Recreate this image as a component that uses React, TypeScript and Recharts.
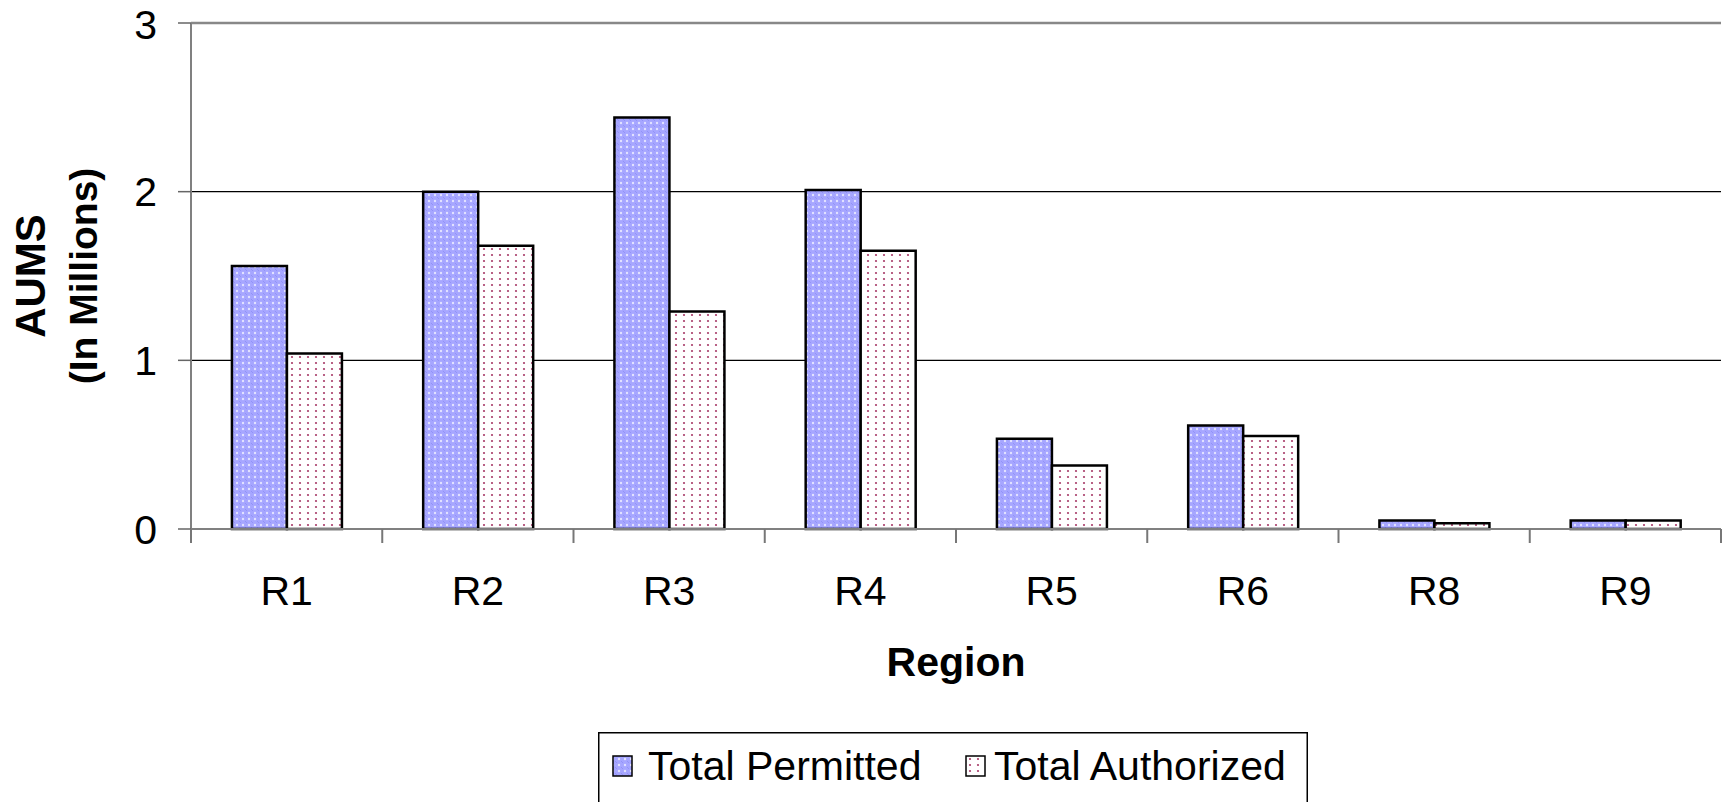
import React from 'react';
import { BarChart, Bar, XAxis, YAxis, CartesianGrid, Legend, ReferenceLine, Label } from 'recharts';

const regions = ['R1', 'R2', 'R3', 'R4', 'R5', 'R6', 'R8', 'R9'];
const totalPermitted = [1.56, 2.0, 2.44, 2.01, 0.535, 0.614, 0.05, 0.05];
const totalAuthorized = [1.04, 1.68, 1.29, 1.65, 0.377, 0.551, 0.034, 0.05];
const yTicks = [0, 1, 2, 3];

const data = regions.map((region, i) => ({
  region,
  permitted: totalPermitted[i],
  authorized: totalAuthorized[i],
}));

const FONT = "'Liberation Sans', Arial, sans-serif";
const CHART_W = 1729;
const MARGIN = { top: 23, right: 8, left: 0, bottom: 113 };
const Y_AXIS_W = 191;
const TICK_MARGIN = 48;
// half of one category band, used to put the tick marks between categories
const HALF_BAND = (CHART_W - MARGIN.left - MARGIN.right - Y_AXIS_W) / regions.length / 2;

const RegionTick = (props: any) => {
  const { x, y, payload, index } = props;
  const axisY = y - TICK_MARGIN;
  return (
    <g>
      <line x1={x - HALF_BAND} x2={x - HALF_BAND} y1={axisY} y2={axisY + 14} stroke="#777" strokeWidth={2} />
      {index === regions.length - 1 && (
        <line x1={x + HALF_BAND} x2={x + HALF_BAND} y1={axisY} y2={axisY + 14} stroke="#777" strokeWidth={2} />
      )}
      <text x={x} y={y + 28} textAnchor="middle" fontSize={41} fontFamily={FONT} fill="#000">
        {payload.value}
      </text>
    </g>
  );
};

const YTitle = (props: any) => {
  const vb = props.viewBox || { y: 23, height: 506 };
  const cy = vb.y + vb.height / 2;
  return (
    <g fontFamily={FONT} fontWeight="bold" fill="#000">
      <text transform={`translate(45, ${cy}) rotate(-90)`} textAnchor="middle" fontSize={42}>
        AUMS
      </text>
      <text transform={`translate(97, ${cy}) rotate(-90)`} textAnchor="middle" fontSize={39}>
        (In Millions)
      </text>
    </g>
  );
};

const XTitle = (props: any) => {
  const vb = props.viewBox || { x: 191, y: 529, width: 1530 };
  return (
    <text
      x={vb.x + vb.width / 2}
      y={vb.y + 147}
      textAnchor="middle"
      fontFamily={FONT}
      fontWeight="bold"
      fontSize={41}
      fill="#000"
    >
      Region
    </text>
  );
};

const LegendBox = () => (
  <svg width={710} height={70} style={{ display: 'block' }} fontFamily={FONT}>
    <path d="M0.75 70 V0.75 H709.25 V70" fill="none" stroke="#000" strokeWidth={1.5} />
    <rect x={15} y={24} width={19} height={20} fill="url(#permittedFill)" stroke="#000" strokeWidth={1.5} />
    <text x={50} y={48} fontSize={41} fill="#000">Total Permitted</text>
    <rect x={368} y={24} width={19} height={20} fill="url(#authorizedFill)" stroke="#000" strokeWidth={1.5} />
    <text x={396} y={48} fontSize={41} fill="#000">Total Authorized</text>
  </svg>
);

export default function App() {
  return (
    <div style={{ position: 'absolute', left: 0, top: 0, background: '#fff' }}>
      <BarChart
        width={CHART_W}
        height={802}
        data={data}
        margin={MARGIN}
        barCategoryGap="21.4%"
        barGap={0}
      >
        <defs>
          <pattern id="permittedFill" width="6" height="6" patternUnits="userSpaceOnUse">
            <rect width="6" height="6" fill="#a6a6ff" />
            <circle cx="3" cy="3" r="1.2" fill="#e2e2ff" />
            <circle cx="0" cy="0" r="0.9" fill="#8a8af6" />
            <circle cx="6" cy="6" r="0.9" fill="#8a8af6" />
          </pattern>
          <pattern id="authorizedFill" width="8" height="6" patternUnits="userSpaceOnUse">
            <rect width="8" height="6" fill="#fff" />
            <circle cx="4" cy="3" r="1.1" fill="#a83a68" />
          </pattern>
        </defs>
        <CartesianGrid horizontal vertical={false} stroke="#000" strokeWidth={1.3} />
        <XAxis
          dataKey="region"
          height={160}
          tickLine={false}
          tickSize={0}
          tickMargin={TICK_MARGIN}
          axisLine={{ stroke: '#808080', strokeWidth: 2 }}
          tick={<RegionTick />}
          interval={0}
        >
          <Label content={<XTitle />} />
        </XAxis>
        <YAxis
          domain={[0, 3]}
          ticks={yTicks}
          width={Y_AXIS_W}
          tickSize={13}
          tickMargin={21}
          tickLine={{ stroke: '#666', strokeWidth: 1.5 }}
          axisLine={{ stroke: '#808080', strokeWidth: 2 }}
          tick={{ fontSize: 41, fill: '#000', fontFamily: FONT }}
        >
          <Label content={<YTitle />} />
        </YAxis>
        <YAxis
          yAxisId="right"
          orientation="right"
          domain={[0, 3]}
          width={0}
          tick={false}
          tickLine={false}
          axisLine={{ stroke: '#888', strokeWidth: 3 }}
        />
        <ReferenceLine y={3} stroke="#888" strokeWidth={2.5} />
        <Bar
          dataKey="permitted"
          name="Total Permitted"
          fill="url(#permittedFill)"
          stroke="#000"
          strokeWidth={2.5}
          isAnimationActive={false}
        />
        <Bar
          dataKey="authorized"
          name="Total Authorized"
          fill="url(#authorizedFill)"
          stroke="#000"
          strokeWidth={2.5}
          isAnimationActive={false}
        />
        <Legend
          verticalAlign="middle"
          align="center"
          content={<LegendBox />}
          wrapperStyle={{ position: 'absolute', left: 598, top: 732, width: 710, height: 70 }}
        />
      </BarChart>
    </div>
  );
}
